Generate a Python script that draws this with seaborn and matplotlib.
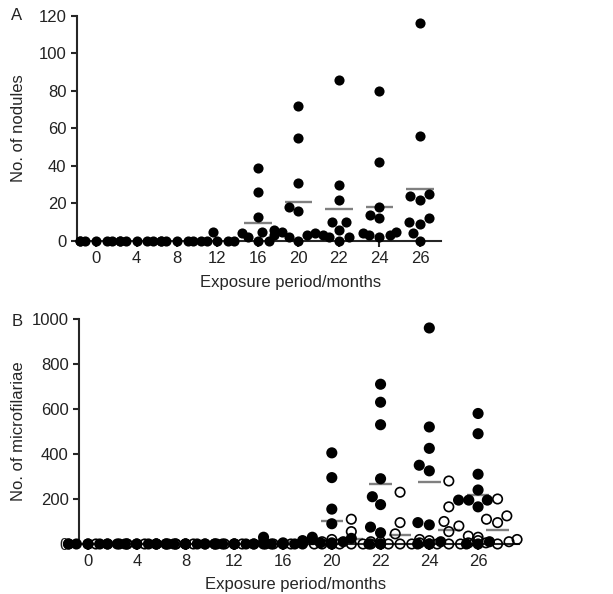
import numpy as np
import pandas as pd
import matplotlib
matplotlib.use("Agg")
import matplotlib.pyplot as plt
import seaborn as sns

# --- data ---
months = ["0", "4", "8", "12", "16", "20", "22", "24", "26"]

# panel A: nodules per animal, one list per exposure period
nodules = [
    [0, 0, 0, 0, 0, 0],
    [0, 0, 0, 0, 0, 0],
    [0, 0, 0, 0, 0, 0],
    [5, 0, 0, 0, 0, 0],
    [39, 26, 13, 6, 5, 4, 3, 2, 0, 0],
    [72, 55, 31, 18, 16, 5, 4, 3, 2, 0],
    [86, 30, 22, 10, 10, 6, 3, 2, 2, 0],
    [80, 42, 18, 14, 12, 5, 4, 3, 3, 2],
    [116, 56, 25, 24, 22, 12, 10, 9, 4, 0],
]

# panel B: microfilariae, filled (left) and open (right) circles
mf_filled = [
    [0, 0, 0, 0, 0, 0],
    [0, 0, 0, 0, 0, 0],
    [0, 0, 0, 0, 0, 0],
    [0, 0, 0, 0, 0, 0],
    [30, 15, 10, 5, 0, 0, 0, 0],
    [405, 295, 155, 90, 30, 25, 20, 10, 5, 0],
    [710, 630, 530, 290, 210, 175, 75, 50, 0, 0],
    [960, 520, 425, 350, 325, 95, 85, 10, 0, 0],
    [580, 490, 310, 240, 195, 195, 195, 165, 10, 0, 0],
]
mf_open = [
    [0, 0, 0, 0, 0, 0],
    [0, 0, 0, 0, 0, 0],
    [0, 0, 0, 0, 0, 0],
    [0, 0, 0, 0, 0, 0],
    [10, 5, 0, 0, 0, 0, 0],
    [110, 55, 20, 10, 5, 0, 0, 0, 0, 0],
    [230, 95, 45, 20, 10, 5, 0, 0, 0, 0],
    [280, 165, 100, 80, 55, 35, 15, 5, 0, 0, 0, 0],
    [200, 125, 110, 95, 30, 20, 15, 10, 5, 0],
]

df_a = pd.DataFrame(
    [(m, v) for m, vals in zip(months, nodules) for v in vals],
    columns=["month", "count"],
)
rows = []
for m, f, o in zip(months, mf_filled, mf_open):
    rows += [(m, "filled", v) for v in f]
    rows += [(m, "open", v) for v in o]
df_b = pd.DataFrame(rows, columns=["month", "group", "count"])

# --- style ---
sns.set_theme(style="ticks")
plt.rcParams["font.family"] = ["Liberation Sans", "DejaVu Sans"]
plt.rcParams["axes.linewidth"] = 1.5
plt.rcParams["xtick.major.width"] = 1.5
plt.rcParams["ytick.major.width"] = 1.5
plt.rcParams["xtick.major.size"] = 4
plt.rcParams["ytick.major.size"] = 4
plt.rcParams["xtick.labelsize"] = 12
plt.rcParams["ytick.labelsize"] = 12
plt.rcParams["text.color"] = "#222222"
plt.rcParams["xtick.labelcolor"] = "#222222"
plt.rcParams["ytick.labelcolor"] = "#222222"

fig = plt.figure(figsize=(6.13, 5.94), dpi=100)
axA = fig.add_axes([0.1256, 0.5943, 0.5938, 0.3788])
axB = fig.add_axes([0.1289, 0.0842, 0.7178, 0.3788])

mean_color = "#808080"

# --- panel A ---
sns.swarmplot(data=df_a, x="month", y="count", order=months, color="black",
              size=7.3, ax=axA, warn_thresh=1)
means_a = df_a.groupby("month", sort=False)["count"].mean()
for i, m in enumerate(months):
    if means_a[m] >= 2:
        axA.hlines(means_a[m], i - 0.34, i + 0.34, color=mean_color, lw=1.7, zorder=2)
axA.set_xlim(-0.47, 8.52)
axA.set_ylim(0, 120)
axA.set_yticks(range(0, 121, 20))
axA.set_xticks(range(len(months)), months)
axA.set_xlabel("Exposure period/months", fontsize=12)
axA.set_ylabel("No. of nodules", fontsize=12)
axA.xaxis.set_label_coords(0.588, -0.15)
axA.yaxis.set_label_coords(-0.14, 0.5)

# --- panel B ---
sns.swarmplot(data=df_b, x="month", y="count", hue="group", order=months,
              hue_order=["filled", "open"], palette={"filled": "black", "open": "white"},
              dodge=True, size=6.8, edgecolor="black", linewidth=1.2,
              legend=False, ax=axB, warn_thresh=1)
for c in axB.collections:
    fc = c.get_facecolor()
    if len(fc) and fc[0][0] > 0.9:
        c.set_facecolor("none")
means_b = df_b.groupby(["month", "group"], sort=False)["count"].mean()
for i, m in enumerate(months):
    for off, g in [(-0.2, "filled"), (0.2, "open")]:
        mv = means_b[(m, g)]
        if mv >= 2:
            axB.hlines(mv, i + off - 0.23, i + off + 0.23, color=mean_color, lw=1.7, zorder=2)
axB.set_xlim(-0.385, 8.64)
axB.set_ylim(0, 1000)
axB.set_yticks(range(0, 1001, 200))
axB.set_xticks(np.arange(len(months)) - 0.2, months)
axB.set_xlabel("Exposure period/months", fontsize=12)
axB.set_ylabel("No. of microfilariae", fontsize=12)
axB.xaxis.set_label_coords(0.493, -0.148)
axB.yaxis.set_label_coords(-0.12, 0.5)

for ax in (axA, axB):
    sns.despine(ax=ax)
    for c in ax.collections:
        c.set_clip_on(False)

fig.text(17 / 613, 1 - 15 / 594, "A", fontsize=12, ha="center", va="center")
fig.text(17 / 613, 1 - 322 / 594, "B", fontsize=12, ha="center", va="center")

fig.savefig("out.png", dpi=100)
